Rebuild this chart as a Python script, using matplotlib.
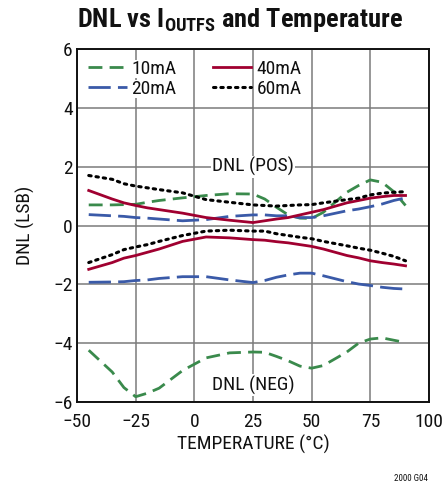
import matplotlib
matplotlib.use("Agg")
import matplotlib.pyplot as plt
from matplotlib import font_manager as fm

names = {f.name for f in fm.fontManager.ttflist}
FAM = 'DejaVu Sans'
for cand in ['Roboto Condensed', 'Archivo Narrow', 'PT Sans Narrow', 'Pragati Narrow',
             'Open Sans Condensed', 'Asap Condensed', 'Barlow Condensed']:
    if cand in names:
        FAM = cand
        break
plt.rcParams['font.family'] = [FAM, 'DejaVu Sans']
plt.rcParams['mathtext.fontset'] = 'custom'
plt.rcParams['mathtext.rm'] = FAM
plt.rcParams['mathtext.bf'] = FAM + ':bold'

temp = [-45, -35, -30, -25, -20, -15, -5, 5, 15, 25, 30, 35, 40, 45, 50, 55, 65, 70, 75, 80, 85, 90]

pos_10 = [0.70, 0.70, 0.71, 0.72, 0.79, 0.85, 0.94, 1.02, 1.08, 1.07, 0.90, 0.62, 0.36, 0.25, 0.24, 0.45, 1.13, 1.36, 1.55, 1.47, 1.15, 0.68]
pos_20 = [0.37, 0.33, 0.31, 0.27, 0.25, 0.22, 0.16, 0.20, 0.31, 0.36, 0.36, 0.33, 0.33, 0.27, 0.27, 0.33, 0.50, 0.56, 0.64, 0.73, 0.85, 0.94]
pos_40 = [1.19, 0.90, 0.77, 0.68, 0.60, 0.54, 0.42, 0.27, 0.18, 0.10, 0.16, 0.22, 0.27, 0.36, 0.45, 0.54, 0.77, 0.85, 0.93, 0.98, 1.02, 1.02]
pos_60 = [1.70, 1.57, 1.42, 1.34, 1.28, 1.22, 1.11, 0.88, 0.79, 0.70, 0.68, 0.66, 0.68, 0.70, 0.71, 0.77, 0.88, 0.93, 1.04, 1.10, 1.13, 1.15]

neg_10 = [-4.24, -4.98, -5.51, -5.82, -5.70, -5.53, -4.93, -4.50, -4.33, -4.30, -4.31, -4.45, -4.60, -4.78, -4.85, -4.76, -4.30, -4.00, -3.86, -3.82, -3.90, -3.98]
neg_20 = [-1.93, -1.92, -1.91, -1.87, -1.85, -1.80, -1.74, -1.74, -1.85, -1.94, -1.87, -1.76, -1.68, -1.62, -1.62, -1.71, -1.91, -1.99, -2.04, -2.10, -2.14, -2.16]
neg_40 = [-1.49, -1.26, -1.11, -1.02, -0.91, -0.80, -0.54, -0.39, -0.42, -0.48, -0.50, -0.55, -0.59, -0.65, -0.71, -0.80, -1.02, -1.10, -1.20, -1.26, -1.31, -1.37]
neg_60 = [-1.26, -0.99, -0.82, -0.73, -0.65, -0.54, -0.34, -0.19, -0.16, -0.19, -0.19, -0.28, -0.34, -0.40, -0.45, -0.54, -0.69, -0.77, -0.84, -0.94, -1.05, -1.20]

labels = ['10mA', '20mA', '40mA', '60mA']
colors = ['#3a8a4c', '#3a5aa8', '#a00030', '#000000']
styles = [(0, (5, 2.6)), (0, (8, 2.6)), '-', (0, (0.8, 1.6))]
pos = [pos_10, pos_20, pos_40, pos_60]
neg = [neg_10, neg_20, neg_40, neg_60]

fig = plt.figure(figsize=(4.45, 4.86), dpi=100)
ax = fig.add_axes([77/445, 1-402/486, (429-77)/445, (402-49)/486])

handles = []
for lab, c, ls, p, n in zip(labels, colors, styles, pos, neg):
    lw = 2.0 if lab != '60mA' else 2.2
    cap = 'round' if lab == '60mA' else 'butt'
    h, = ax.plot(temp, p, color=c, ls=ls, lw=lw, label=lab, dash_capstyle=cap, zorder=3)
    ax.plot(temp, n, color=c, ls=ls, lw=lw, dash_capstyle=cap, zorder=3)
    handles.append(h)

ax.set_xlim(-50, 100)
ax.set_ylim(-6, 6)
ax.set_xticks([-50, -25, 0, 25, 50, 75, 100])
ax.set_yticks([-6, -4, -2, 0, 2, 4, 6])
ax.grid(True, color='#7a7a7a', lw=1.1, zorder=0)
ax.set_axisbelow(True)
ax.tick_params(length=0, labelsize=14, pad=3, colors='#111111')
ax.tick_params(axis='x', pad=8)
for s in ax.spines.values():
    s.set_linewidth(1.4)
    s.set_color('#111111')

ax.set_xlabel('TEMPERATURE (°C)', fontsize=14, labelpad=3, color='#111111')
ax.set_ylabel('DNL (LSB)', fontsize=14, labelpad=13, color='#111111')

leg = ax.legend(handles=handles, ncol=2, loc='upper left', frameon=False,
                fontsize=14, handlelength=2.0, handletextpad=0.25,
                columnspacing=1.85, labelspacing=0.12, borderaxespad=0.15,
                bbox_to_anchor=(0.0, 1.0))
for t in leg.get_texts():
    t.set_color('#111111')
    t.set_bbox(dict(facecolor='white', edgecolor='none', pad=0))

ax.text(25, 2.0, 'DNL (POS)', ha='center', va='center', fontsize=14, color='#111111',
        bbox=dict(facecolor='white', edgecolor='none', pad=1), zorder=2)
ax.text(25, -5.43, 'DNL (NEG)', ha='center', va='center', fontsize=14, color='#111111',
        bbox=dict(facecolor='white', edgecolor='none', pad=1), zorder=2)

fig.text(240/445, 1-20/486, r'DNL vs I$_{\mathregular{OUTFS}}$ and Temperature', ha='center', va='center',
         fontsize=19, fontweight='bold', color='#111111')
fig.text(428/445, 1-478/486, '2000 G04', ha='right', va='center', fontsize=6.5, color='#111111')

fig.savefig('out.png', dpi=100)
